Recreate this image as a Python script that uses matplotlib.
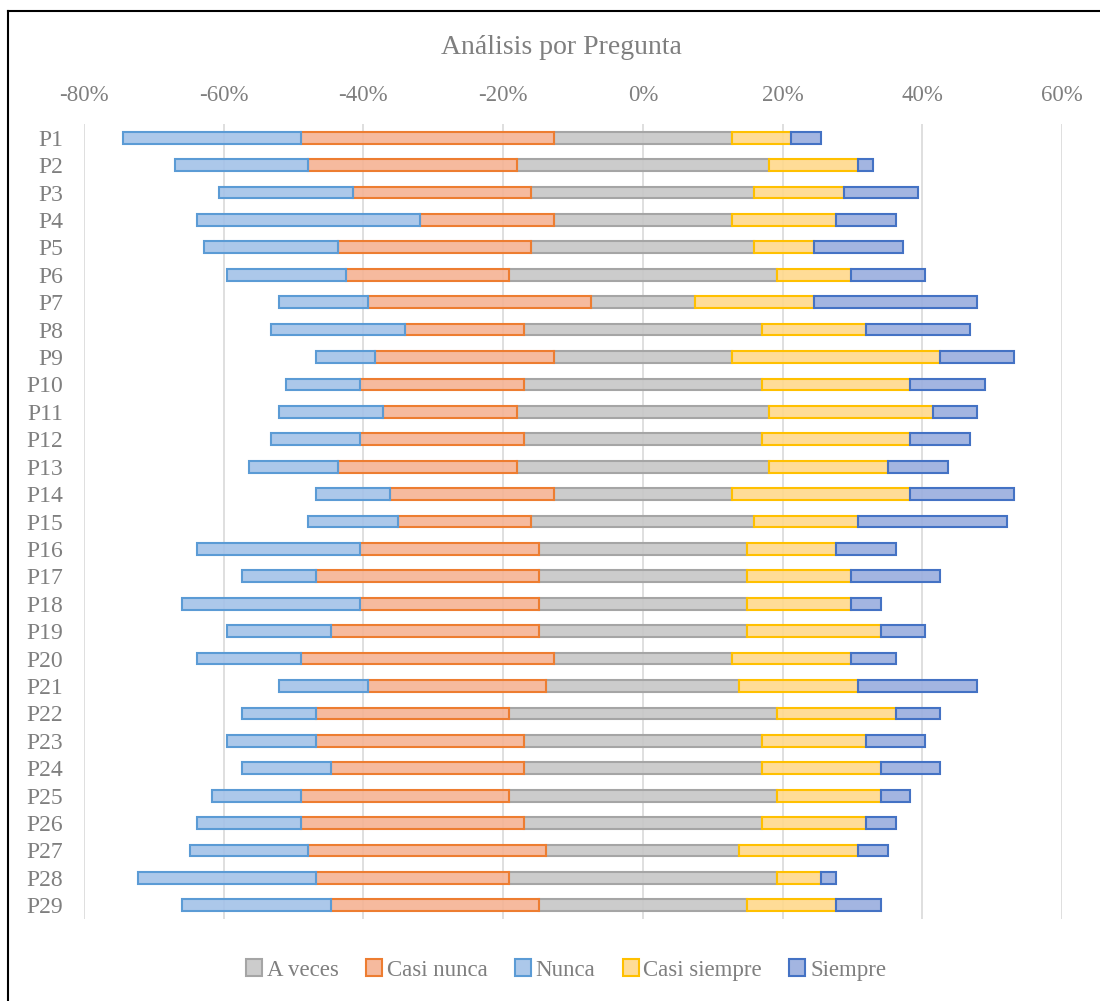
import numpy as np
import matplotlib
matplotlib.use("Agg")
import matplotlib.pyplot as plt
from matplotlib.lines import Line2D

plt.rcParams['font.family'] = ['Liberation Serif', 'DejaVu Serif']

# Respuestas por pregunta (n = 47)
preguntas = [f"P{i}" for i in range(1, 30)]
a_veces      = [12, 17, 15, 12, 15, 18, 7, 16, 12, 16, 17, 16, 17, 12, 15, 14, 14, 14, 14, 12, 13, 18, 16, 16, 18, 16, 13, 18, 14]
casi_nunca   = [17, 14, 12, 9, 13, 11, 15, 8, 12, 11, 9, 11, 12, 11, 9, 12, 15, 12, 14, 17, 12, 13, 14, 13, 14, 15, 16, 13, 14]
nunca        = [12, 9, 9, 15, 9, 8, 6, 9, 4, 5, 7, 6, 6, 5, 6, 11, 5, 12, 7, 7, 6, 5, 6, 6, 6, 7, 8, 12, 10]
casi_siempre = [4, 6, 6, 7, 4, 5, 8, 7, 14, 10, 11, 10, 8, 12, 7, 6, 7, 7, 9, 8, 8, 8, 7, 8, 7, 7, 8, 3, 6]
siempre      = [2, 1, 5, 4, 6, 5, 11, 7, 5, 5, 3, 4, 4, 7, 10, 4, 6, 2, 3, 3, 8, 3, 4, 4, 2, 2, 2, 1, 3]
total = 47

x_ticks = [-80, -60, -40, -20, 0, 20, 40, 60]
x_labels = ["-80%", "-60%", "-40%", "-20%", "0%", "20%", "40%", "60%"]

to_pct = lambda v: np.array(v) / total * 100
av, cn, nu, cs, si = map(to_pct, [a_veces, casi_nunca, nunca, casi_siempre, siempre])

fig = plt.figure(figsize=(11, 10.01), dpi=100)
ax = fig.add_axes([84 / 1100, 1 - 919 / 1001, (1062 - 84) / 1100, (919 - 124) / 1001])

y = np.arange(len(preguntas))
h = 0.43
lw = 1.5

series = [
    ("A veces",      av, -av / 2,            (0.78, 0.78, 0.78, 0.9), "#a5a5a5"),
    ("Casi nunca",   cn, -av / 2 - cn,       (0.96, 0.70, 0.58, 0.9), "#ed7d31"),
    ("Nunca",        nu, -av / 2 - cn - nu,  (0.64, 0.76, 0.91, 0.9), "#5b9bd5"),
    ("Casi siempre", cs, av / 2,             (1.00, 0.85, 0.55, 0.9), "#ffc000"),
    ("Siempre",      si, av / 2 + cs,        (0.60, 0.68, 0.87, 0.9), "#4472c4"),
]
for name, w, left, fc, ec in series:
    ax.barh(y, w, left=left, height=h, color=fc, edgecolor=ec, linewidth=lw, label=name, zorder=2)

ax.set_xlim(-80, 60)
ax.set_ylim(len(preguntas) - 0.5, -0.5)
ax.set_xticks(x_ticks)
ax.set_xticklabels(x_labels)
ax.set_yticks(y)
ax.set_yticklabels(preguntas)
ax.xaxis.tick_top()
ax.tick_params(axis='x', length=0, pad=13, labelsize=16.5, labelcolor='#7f7f7f')
ax.tick_params(axis='y', length=0, pad=15, labelsize=17, labelcolor='#7f7f7f')
ax.grid(axis='x', color='#d9d9d9', linewidth=1.2, zorder=0)
ax.set_axisbelow(True)
for s in ax.spines.values():
    s.set_visible(False)

fig.text(561 / 1100, 1 - 47 / 1001, "Análisis por Pregunta", ha='center', va='center',
         fontsize=20, color='#7f7f7f')

fig.legend(loc='center', bbox_to_anchor=(566 / 1100, 1 - 970 / 1001), ncol=5, frameon=False,
           fontsize=16.5, labelcolor='#7f7f7f', handlelength=0.7, handleheight=0.7,
           handletextpad=0.2, columnspacing=1.2)

# borde del gráfico
fig.add_artist(Line2D([8 / 1100, 8 / 1100], [0, 1 - 11 / 1001], transform=fig.transFigure,
                      color='black', linewidth=1.5))
fig.add_artist(Line2D([8 / 1100, 1], [1 - 11 / 1001, 1 - 11 / 1001], transform=fig.transFigure,
                      color='black', linewidth=1.5))

fig.savefig("out.png", dpi=100)
